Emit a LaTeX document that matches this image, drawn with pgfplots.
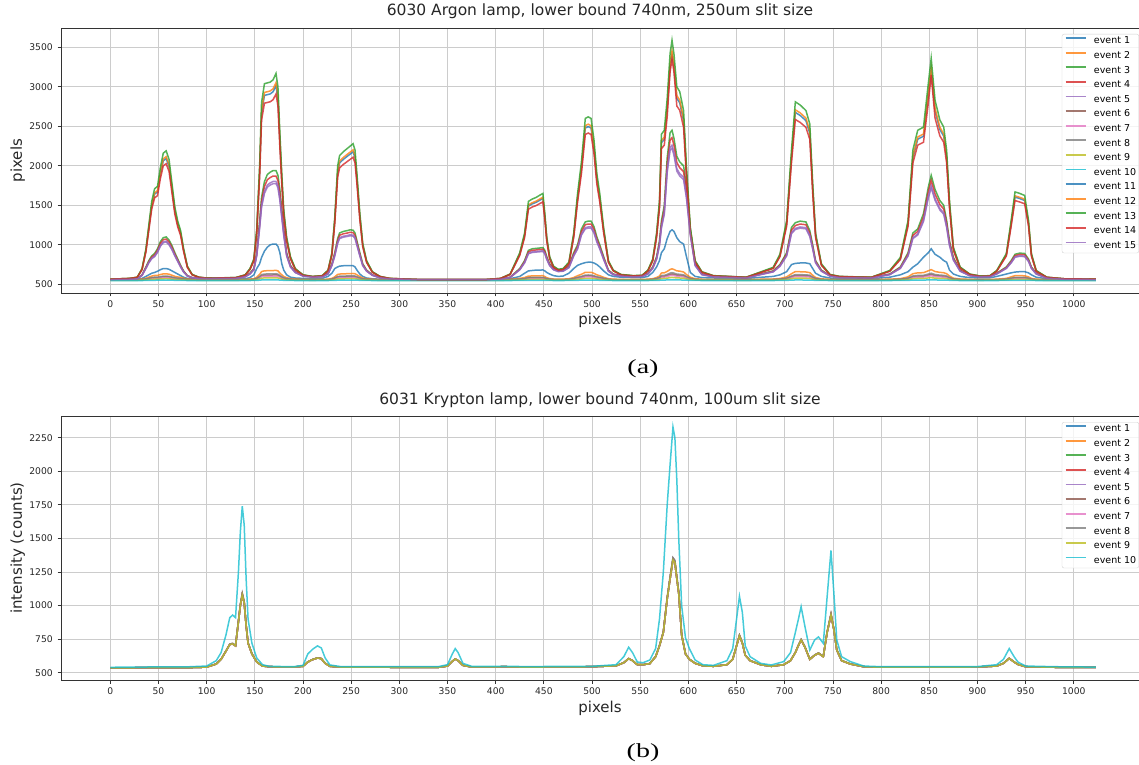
\documentclass[border=0pt]{standalone}
\usepackage{pgfplots}
\pgfplotsset{compat=1.18}
\usepackage{pgfplotstable}
\usepackage{fontspec}
\setmainfont{DejaVu Sans}
\newfontfamily\capfont{Liberation Serif}
\definecolor{c0}{HTML}{1F77B4}
\definecolor{c1}{HTML}{FF7F0E}
\definecolor{c2}{HTML}{2CA02C}
\definecolor{c3}{HTML}{D62728}
\definecolor{c4}{HTML}{9467BD}
\definecolor{c5}{HTML}{8C564B}
\definecolor{c6}{HTML}{E377C2}
\definecolor{c7}{HTML}{7F7F7F}
\definecolor{c8}{HTML}{BCBD22}
\definecolor{c9}{HTML}{17BECF}
\pgfkeys{/pgf/number format/.cd,1000 sep={},assume math mode=true}

\pgfplotstableread{
x e1 e2 e3 e4 e5 e6 e7 e8 e9 e10 e11 e12 e13 e14 e15
0 555 560 560 560 560 555 553 556 551 548 565 565 565 565 560
20 558 560 565 565 564 555 553 556 551 548 574 575 575 574 564
28 560 561 570 570 569 556 553 557 551 548 589 589 590 588 569
33 575 566 620 617 614 558 556 560 553 548 692 694 700 686 613
37 600 577 720 712 704 565 561 568 556 549 927 933 950 911 701
40 620 591 800 788 776 572 567 577 559 550 1209 1219 1250 1181 771
43 640 604 860 845 830 580 573 586 563 551 1491 1506 1550 1451 824
46 650 612 890 874 857 584 576 590 565 551 1641 1658 1710 1595 850
49 665 613 950 931 911 584 577 591 565 552 1670 1687 1740 1622 903
52 685 624 1040 1016 992 590 581 598 568 552 1895 1916 1980 1838 982
55 700 632 1090 1064 1037 595 585 604 570 553 2064 2088 2160 2000 1026
58 700 633 1100 1073 1046 596 586 605 571 553 2092 2117 2190 2027 1035
61 690 628 1060 1035 1010 593 583 601 569 553 1989 2012 2080 1928 1000
64 670 615 990 969 947 585 577 592 566 552 1707 1725 1780 1658 938
67 650 601 900 883 866 578 571 583 562 551 1425 1439 1480 1388 859
70 630 593 820 807 794 573 568 578 560 550 1256 1267 1300 1226 789
73 610 588 740 731 722 570 565 574 558 550 1143 1152 1180 1118 718
76 590 578 670 665 659 565 561 568 556 549 936 942 960 920 657
80 575 567 610 608 605 559 556 561 553 548 720 723 730 713 604
85 568 563 585 584 583 557 554 558 552 548 621 622 625 619 582
92 565 561 578 577 576 556 553 557 551 548 589 589 590 588 576
100 565 561 575 574 574 555 553 556 551 548 579 579 580 578 573
130 565 561 578 577 576 556 553 557 551 548 584 584 585 583 576
140 570 562 600 598 596 556 554 558 552 548 617 618 620 615 595
145 585 566 640 636 632 558 556 560 553 548 692 694 700 686 630
149 620 571 700 693 686 561 558 564 554 549 805 809 820 795 683
152 700 589 900 883 866 571 566 575 559 550 1162 1171 1200 1137 859
155 760 625 1300 1263 1226 591 582 599 568 552 1914 1935 2000 1857 1211
157 840 661 1600 1548 1496 611 598 623 578 555 2666 2699 2800 2577 1475
160 920 671 1800 1738 1676 617 603 630 581 555 2892 2929 3040 2793 1651
163 970 672 1890 1824 1757 617 603 631 581 555 2901 2938 3050 2802 1730
166 1000 672 1920 1852 1784 617 603 631 581 555 2910 2948 3060 2811 1757
169 1010 674 1940 1871 1802 618 604 632 581 556 2939 2976 3090 2838 1774
172 1010 677 1940 1871 1802 620 605 634 582 556 3014 3053 3170 2910 1774
174 980 670 1880 1814 1748 616 602 629 580 555 2854 2890 3000 2757 1722
176 900 643 1700 1643 1586 601 590 612 573 554 2309 2337 2420 2235 1563
178 760 620 1450 1406 1361 588 580 596 567 552 1820 1840 1900 1767 1343
180 680 600 1200 1168 1136 577 571 583 562 551 1397 1410 1450 1362 1123
183 620 584 900 883 866 568 564 572 557 550 1068 1076 1100 1047 859
187 590 573 740 731 722 562 559 565 554 549 833 837 850 822 718
192 580 566 660 655 650 558 556 560 553 548 692 694 700 686 648
200 575 562 610 608 605 556 554 558 552 548 617 618 620 615 604
210 572 562 595 593 592 556 554 557 551 548 598 598 600 597 591
220 575 562 600 598 596 556 554 557 552 548 607 608 610 606 595
226 600 565 640 636 632 558 555 559 552 548 673 675 680 669 630
230 640 575 760 750 740 563 560 566 555 549 880 885 900 867 736
233 700 595 900 883 866 575 569 580 560 550 1303 1315 1350 1272 859
236 720 625 1080 1054 1028 591 582 599 568 552 1914 1935 2000 1857 1018
238 730 630 1150 1121 1091 594 584 603 570 553 2036 2060 2130 1974 1079
242 735 633 1170 1140 1109 595 585 604 570 553 2083 2107 2180 2019 1097
246 735 634 1180 1149 1118 596 586 606 571 553 2121 2146 2220 2055 1106
249 735 636 1190 1159 1127 597 587 607 571 553 2149 2174 2250 2082 1114
252 735 637 1185 1154 1123 598 587 607 572 553 2177 2203 2280 2109 1110
254 720 634 1150 1121 1091 596 586 605 571 553 2102 2126 2200 2037 1079
256 680 620 1050 1026 1001 588 580 596 567 552 1820 1840 1900 1767 991
259 630 598 900 883 866 576 570 581 561 551 1350 1362 1400 1317 859
262 600 580 760 750 740 566 562 570 556 549 993 1000 1020 975 736
266 580 571 680 674 668 561 558 563 554 549 786 789 800 777 666
272 570 564 620 617 614 557 555 559 552 548 654 656 660 651 613
280 565 562 585 584 583 556 554 557 551 548 598 598 600 597 582
290 560 560 570 570 569 555 553 556 551 548 574 575 575 574 569
320 556 558 558 558 558 554 552 555 550 547 560 560 560 560 558
390 556 558 558 558 558 554 552 555 550 547 560 560 560 560 558
405 560 560 565 565 564 555 553 556 551 548 574 575 575 574 564
415 570 563 590 589 587 557 554 558 552 548 626 627 630 624 586
425 600 575 700 693 686 563 560 566 555 549 880 885 900 867 683
430 640 586 800 788 776 570 565 574 558 550 1115 1124 1150 1092 771
434 670 604 930 912 893 580 573 586 563 551 1491 1506 1550 1451 886
438 675 606 950 931 911 580 573 587 563 551 1519 1534 1580 1479 903
442 680 607 955 935 916 581 574 587 563 551 1538 1553 1600 1497 908
446 680 608 960 940 920 582 574 588 564 551 1566 1582 1630 1524 912
449 682 609 965 945 925 582 575 589 564 551 1585 1601 1650 1542 916
451 670 598 930 912 893 576 570 581 561 551 1350 1362 1400 1317 886
453 650 584 850 836 821 568 564 572 557 550 1068 1076 1100 1047 815
456 630 573 760 750 740 562 559 565 554 549 833 837 850 822 736
460 610 567 700 693 686 559 556 561 553 548 720 723 730 713 683
465 600 566 675 669 664 558 556 560 553 548 683 684 690 678 661
470 605 566 680 674 668 558 556 560 553 548 692 694 700 686 666
476 640 570 730 722 713 560 557 562 554 549 767 770 780 759 710
481 700 586 900 883 866 570 565 574 558 550 1115 1124 1150 1092 859
485 740 609 1000 978 956 582 575 589 564 551 1585 1601 1650 1542 947
489 760 627 1200 1168 1136 592 583 601 569 552 1961 1983 2050 1902 1123
493 775 652 1290 1254 1217 606 594 617 575 554 2478 2508 2600 2397 1202
496 780 652 1300 1263 1226 606 594 618 576 554 2497 2528 2620 2415 1211
499 780 652 1300 1263 1226 606 594 617 575 554 2478 2508 2600 2397 1211
502 770 639 1230 1197 1163 599 588 609 572 553 2224 2251 2330 2154 1150
505 750 620 1100 1073 1046 588 580 596 567 552 1820 1840 1900 1767 1035
508 720 609 1000 978 956 582 575 589 564 551 1585 1601 1650 1542 947
512 670 589 850 836 821 571 566 576 559 550 1181 1191 1220 1155 815
517 620 571 680 674 668 561 558 563 554 549 786 789 800 777 666
522 600 565 630 627 623 558 555 559 552 548 673 675 680 669 622
530 590 563 610 608 605 557 554 558 552 548 621 622 625 619 604
543 585 562 600 598 596 556 554 557 552 548 607 608 610 606 595
552 585 562 605 603 601 556 554 558 552 548 612 613 615 610 600
558 600 565 640 636 632 558 555 559 552 548 673 675 680 669 630
563 650 571 720 712 704 561 558 564 554 549 805 809 820 795 701
567 720 586 850 836 821 570 565 574 558 550 1115 1124 1150 1092 815
570 800 605 1050 1026 1001 580 573 586 563 551 1500 1515 1560 1461 991
572 900 643 1300 1263 1226 601 590 611 573 554 2290 2317 2400 2217 1211
575 950 645 1500 1453 1406 602 591 613 574 554 2337 2365 2450 2262 1387
578 1080 663 2100 2023 1946 612 599 625 578 555 2713 2747 2850 2622 1915
581 1170 688 2420 2327 2234 626 610 642 585 557 3249 3292 3420 3190 2197
583 1190 696 2450 2356 2261 631 614 647 587 557 3409 3454 3590 3350 2223
585 1170 688 2350 2261 2171 626 610 642 585 557 3249 3292 3420 3190 2135
588 1090 670 2120 2042 1964 616 602 629 580 555 2854 2890 3000 2757 1933
591 1040 667 2050 1976 1901 614 601 627 580 555 2798 2833 2940 2703 1871
595 1010 656 2000 1928 1856 608 596 620 577 554 2572 2604 2700 2487 1827
598 850 624 1730 1672 1613 591 582 599 568 552 1905 1926 1990 1848 1590
602 650 589 1200 1168 1136 571 566 576 559 550 1181 1191 1220 1155 1123
607 600 571 760 750 740 561 558 563 554 549 786 789 800 777 736
614 585 564 630 627 623 557 555 559 552 548 654 656 660 651 622
626 580 562 600 598 596 556 554 557 552 548 607 608 610 606 595
660 575 561 585 584 583 556 553 557 551 548 589 589 590 588 582
688 600 567 670 665 659 559 556 561 553 548 706 708 715 700 657
695 620 574 750 741 731 563 559 565 555 549 861 866 880 849 727
702 660 594 900 883 866 574 568 578 560 550 1265 1277 1310 1236 859
707 750 634 1220 1187 1154 596 586 605 571 553 2102 2126 2200 2037 1141
711 765 661 1280 1244 1208 611 598 623 578 555 2675 2709 2810 2586 1194
716 770 659 1300 1263 1226 610 597 622 577 555 2638 2671 2770 2550 1211
722 770 656 1290 1254 1217 608 596 620 577 554 2572 2604 2700 2487 1202
726 760 648 1180 1149 1118 604 592 615 575 554 2412 2442 2530 2334 1106
729 700 615 1000 978 956 585 577 592 566 552 1707 1725 1780 1658 947
732 640 586 800 788 776 570 565 574 558 550 1115 1124 1150 1092 771
738 600 569 680 674 668 560 557 562 553 549 748 751 760 741 666
747 580 563 610 608 605 557 554 558 552 548 621 622 625 619 604
757 575 562 590 589 587 556 554 557 551 548 598 598 600 597 586
790 572 561 585 584 583 556 553 557 551 548 589 589 590 588 582
809 590 565 630 627 623 558 555 559 552 548 668 670 675 664 622
820 620 572 720 712 704 562 559 564 554 549 824 828 840 813 701
828 660 594 900 883 866 574 568 578 560 550 1265 1277 1310 1236 859
833 717 634 1150 1121 1091 596 586 605 571 553 2102 2126 2200 2037 1079
838 760 645 1200 1168 1136 602 591 613 574 554 2337 2365 2450 2262 1123
844 843 647 1395 1353 1312 603 592 614 574 554 2375 2403 2490 2298 1295
849 900 671 1730 1672 1613 617 603 630 581 555 2892 2929 3040 2793 1590
852 950 686 1880 1814 1748 625 609 640 585 556 3192 3234 3360 3150 1722
856 880 662 1700 1643 1586 612 598 624 578 555 2694 2728 2830 2604 1563
861 843 651 1560 1510 1460 605 593 616 575 554 2459 2489 2580 2379 1440
865 800 647 1500 1453 1406 603 592 614 574 554 2375 2403 2490 2298 1387
868 780 634 1310 1273 1235 596 586 605 571 553 2102 2126 2200 2037 1220
871 680 605 1050 1026 1001 580 573 586 563 551 1500 1515 1560 1461 991
875 630 578 840 826 812 565 561 568 556 549 946 952 970 930 806
882 600 567 680 674 668 559 556 561 553 548 711 713 720 705 666
892 585 563 615 612 610 557 554 558 552 548 626 627 630 624 608
903 580 562 600 598 596 556 554 557 551 548 603 603 605 601 595
913 582 562 603 601 599 556 554 557 552 548 607 608 610 606 598
920 600 565 640 636 632 558 555 559 552 548 668 670 675 664 630
930 630 575 720 712 704 563 560 566 555 549 871 875 890 858 701
935 645 594 800 788 776 574 568 578 560 550 1265 1277 1310 1236 771
939 655 610 880 864 848 583 575 589 564 551 1604 1620 1670 1560 842
944 660 609 895 878 862 582 575 589 564 551 1585 1601 1650 1542 855
949 660 608 890 874 857 582 574 588 564 551 1561 1577 1625 1519 850
953 645 594 820 807 794 574 568 578 560 550 1265 1277 1310 1236 789
956 620 575 720 712 704 563 560 566 555 549 871 875 890 858 701
961 590 565 640 636 632 558 555 559 552 548 668 670 675 664 630
972 570 561 580 579 578 556 553 557 551 548 589 589 590 588 578
990 562 560 565 565 564 555 553 556 551 548 570 570 570 570 564
1023 558 560 560 560 560 555 553 556 551 548 565 565 565 565 560
}\argon

\pgfplotstableread{
x c l lb
0 540 537 537
10 542 537 537
20 541 537 537
40 543 538 538
80 544 538 538
100 550 542 542
110 590 565 566
115 650 600 601
120 780 660 662
124 910 710 713
127 930 715 719
130 910 700 703
133 1250 880 887
135 1550 1000 1009
137 1740 1080 1091
139 1600 1020 1030
141 1200 850 856
143 900 720 724
147 720 640 642
152 610 580 581
158 560 550 550
165 548 545 545
190 545 543 543
200 555 548 548
205 640 580 581
210 675 598 599
215 700 610 611
219 685 605 606
223 610 570 571
228 558 548 548
240 545 542 542
340 545 540 540
350 560 550 550
355 640 585 586
358 680 602 603
361 650 590 591
366 570 555 555
375 548 543 543
410 548 545 545
430 546 542 542
500 548 545 545
525 560 552 552
533 620 575 576
538 690 605 606
542 650 590 591
547 580 560 560
553 575 560 560
560 595 568 569
566 680 620 622
570 900 700 703
574 1250 800 805
578 1750 1050 1060
581 2050 1200 1213
584 2330 1340 1356
586 2250 1320 1336
588 1935 1200 1213
590 1500 1090 1101
593 1000 780 785
597 760 640 642
601 680 600 601
607 595 570 571
615 560 552 552
626 555 548 548
640 590 560 560
646 680 600 601
650 900 700 703
653 1070 775 780
656 950 720 724
659 700 630 632
664 620 590 591
675 570 560 560
686 558 548 548
699 583 560 560
706 650 590 591
711 800 650 652
714 893 700 703
717 992 744 748
721 843 690 693
726 669 600 601
731 744 630 632
735 767 645 647
740 719 620 622
744 1066 800 805
748 1410 930 938
751 1092 820 826
754 744 669 672
759 620 590 591
768 583 565 566
782 550 545 545
800 545 541 541
900 546 543 543
920 560 550 550
927 600 570 571
933 680 607 608
938 620 580 581
942 580 562 562
950 550 545 545
980 545 541 541
1023 542 540 540
}\krypton

\pgfplotsset{
  spec/.style={
    scale only axis, width=1078pt,
    xmin=-51.15, xmax=1067.7,
    xtick={0,50,...,1000},
    grid=major,
    major grid style={gray!40, line width=0.8pt},
    tick align=outside, xtick pos=bottom, ytick pos=left,
    major tick length=3.5pt,
    axis line style={black!80, line width=0.8pt},
    tick style={black!80, line width=0.8pt},
    ticklabel style={font=\fontsize{9.2}{11}\selectfont, text=black!85},
    xticklabel style={inner sep=0pt, yshift=-4pt},
    yticklabel style={inner sep=0pt, xshift=-4.5pt},
    title style={at={(0.5,1)}, anchor=base, yshift=6pt, font=\fontsize{15.5}{18}\selectfont, text=black!85},
    xlabel style={at={(0.5,0)}, anchor=base, yshift=-32pt, font=\fontsize{15}{18}\selectfont, text=black!85},
    ylabel style={at={(-0.0362,0.5)}, anchor=base, rotate=0, font=\fontsize{15}{18}\selectfont, text=black!85},
    legend cell align=left,
    legend style={at={(1,1)}, anchor=north east, xshift=0pt, yshift=-6pt,
      draw=gray!35, rounded corners=2pt, fill=white, fill opacity=0.8, text opacity=1,
      inner sep=2.7pt, font=\fontsize{9.5}{11}\selectfont, row sep=5.6pt,
      nodes={inner sep=0pt, text height=7pt, text depth=2pt}},
    legend image code/.code={\draw[#1, line width=1.9pt] (0pt,3.3pt) -- (20.6pt,3.3pt); \path[draw=none] (0pt,0pt) -- (28.3pt,0pt);},
    every axis plot/.append style={line width=1.5pt, opacity=0.8},
  }
}

\begin{document}
\begin{tikzpicture}[x=1pt,y=1pt]
\useasboundingbox (0,0) rectangle (1139,764);

\begin{axis}[spec, at={(61pt,471pt)}, anchor=south west, height=265pt,
  ymin=390, ymax=3745, ytick={500,1000,...,3500},
  title={6030 Argon lamp, lower bound 740nm, 250um slit size},
  xlabel={pixels}, ylabel={pixels}]
\addplot[c0] table[x=x,y=e1]{\argon}; \addlegendentry{event 1}
\addplot[c1] table[x=x,y=e2]{\argon}; \addlegendentry{event 2}
\addplot[c2] table[x=x,y=e3]{\argon}; \addlegendentry{event 3}
\addplot[c3] table[x=x,y=e4]{\argon}; \addlegendentry{event 4}
\addplot[c4] table[x=x,y=e5]{\argon}; \addlegendentry{event 5}
\addplot[c5] table[x=x,y=e6]{\argon}; \addlegendentry{event 6}
\addplot[c6] table[x=x,y=e7]{\argon}; \addlegendentry{event 7}
\addplot[c7] table[x=x,y=e8]{\argon}; \addlegendentry{event 8}
\addplot[c8] table[x=x,y=e9]{\argon}; \addlegendentry{event 9}
\addplot[c9] table[x=x,y=e10]{\argon}; \addlegendentry{event 10}
\addplot[c0] table[x=x,y=e11]{\argon}; \addlegendentry{event 11}
\addplot[c1] table[x=x,y=e12]{\argon}; \addlegendentry{event 12}
\addplot[c2] table[x=x,y=e13]{\argon}; \addlegendentry{event 13}
\addplot[c3] table[x=x,y=e14]{\argon}; \addlegendentry{event 14}
\addplot[c4] table[x=x,y=e15]{\argon}; \addlegendentry{event 15}
\end{axis}

\begin{axis}[spec, at={(61pt,84pt)}, anchor=south west, height=264pt,
  ymin=446, ymax=2412, ytick={500,750,...,2250},
  title={6031 Krypton lamp, lower bound 740nm, 100um slit size},
  xlabel={pixels}, ylabel={intensity (counts)}]
\addplot[c0] table[x=x,y=l]{\krypton}; \addlegendentry{event 1}
\addplot[c1] table[x=x,y=l]{\krypton}; \addlegendentry{event 2}
\addplot[c2] table[x=x,y=l]{\krypton}; \addlegendentry{event 3}
\addplot[c3] table[x=x,y=l]{\krypton}; \addlegendentry{event 4}
\addplot[c4] table[x=x,y=l]{\krypton}; \addlegendentry{event 5}
\addplot[c5] table[x=x,y=lb]{\krypton}; \addlegendentry{event 6}
\addplot[c6] table[x=x,y=l]{\krypton}; \addlegendentry{event 7}
\addplot[c7] table[x=x,y=lb]{\krypton}; \addlegendentry{event 8}
\addplot[c8] table[x=x,y=l]{\krypton}; \addlegendentry{event 9}
\addplot[c9] table[x=x,y=c]{\krypton}; \addlegendentry{event 10}
\end{axis}

\node[font=\capfont\fontsize{20}{24}\selectfont, xscale=1.4] at (643,395.5) {(a)};
\node[font=\capfont\fontsize{20}{24}\selectfont, xscale=1.4] at (643,11) {(b)};
\end{tikzpicture}
\end{document}
